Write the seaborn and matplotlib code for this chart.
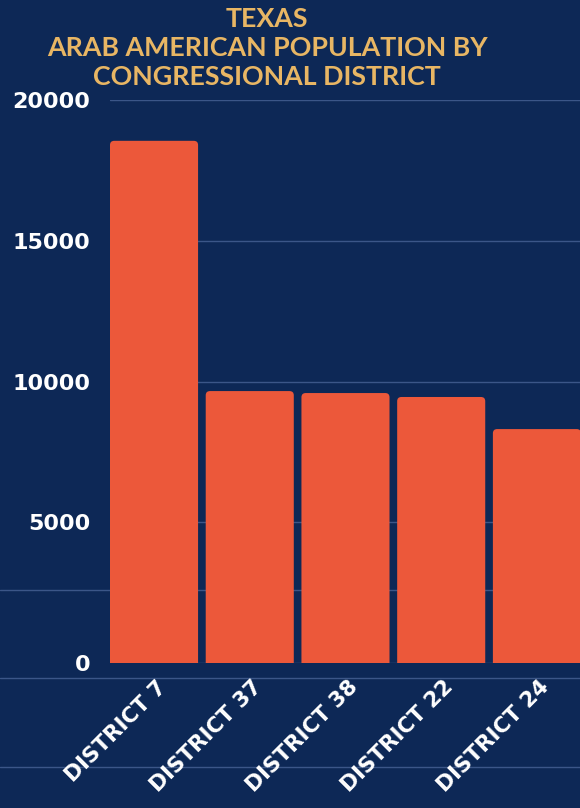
import numpy as np
import pandas as pd
import matplotlib.pyplot as plt
import matplotlib.transforms as mtrans
import seaborn as sns
from matplotlib.patches import FancyBboxPatch
from matplotlib.lines import Line2D

# Data
districts = ["DISTRICT 7", "DISTRICT 37", "DISTRICT 38", "DISTRICT 22", "DISTRICT 24"]
population = [18550, 9660, 9590, 9450, 8310]
yticks = [0, 5000, 10000, 15000, 20000]

bg = "#0d2856"
bar_color = "#ec583a"
grid_color = "#3b5688"
gold = "#e8b664"

sns.set_theme(style="dark")
plt.rcParams["font.family"] = ["Lato", "DejaVu Sans"]

df = pd.DataFrame({"district": districts, "population": population})

fig = plt.figure(figsize=(5.8, 8.08), dpi=100, facecolor=bg)
ax = fig.add_axes([110 / 580, 1 - 663 / 808, 470 / 580, 563 / 808])
ax.set_facecolor("none")

# decorative full-width lines in the background
for ypx in [590, 678, 767]:
    fig.add_artist(Line2D([0, 1], [1 - ypx / 808] * 2, transform=fig.transFigure,
                          color=grid_color, lw=1, zorder=-5))

sns.barplot(data=df, x="district", y="population", color=bar_color,
            width=0.92, ax=ax, zorder=3)

# swap bars for rounded ones (bottom pushed below 0 so it gets clipped square)
for p in list(ax.patches):
    x, w, h = p.get_x(), p.get_width(), p.get_height()
    p.remove()
    ax.add_patch(FancyBboxPatch((x, -400), w, h + 400,
                                boxstyle="round,pad=0,rounding_size=0.045",
                                mutation_aspect=3300, fc=bar_color, ec="none",
                                zorder=3))

ax.set_xlim(-0.46, 4.45)
ax.set_ylim(0, 20000)
ax.set_yticks(yticks)
ax.set_yticklabels([str(t) for t in yticks])
for t in yticks:
    ax.axhline(t, color=grid_color, lw=1, zorder=1)

for s in ax.spines.values():
    s.set_visible(False)
ax.grid(False)
ax.set_xlabel("")
ax.set_ylabel("")

ax.tick_params(axis="y", length=0, pad=14, labelsize=16, labelcolor="white")
for lab in ax.get_yticklabels():
    lab.set_fontfamily("DejaVu Sans")
    lab.set_fontweight("bold")

ax.tick_params(axis="x", length=0, pad=10, labelsize=15.5, labelcolor="white")
ax.set_xticks(range(len(districts)))
ax.set_xticklabels(districts, rotation=45, ha="right", rotation_mode="anchor")
offset = mtrans.ScaledTranslation(2 / 100, 0, fig.dpi_scale_trans)
for lab in ax.get_xticklabels():
    lab.set_fontfamily("DejaVu Sans")
    lab.set_fontweight("bold")
    lab.set_transform(lab.get_transform() + offset)

fig.text(267 / 580, 1 - 48 / 808,
         "TEXAS\nARAB AMERICAN POPULATION BY\nCONGRESSIONAL DISTRICT",
         ha="center", va="center", color=gold, fontsize=19.3, fontweight="bold",
         linespacing=1.27)

fig.savefig("out.png", dpi=100, facecolor=bg)
